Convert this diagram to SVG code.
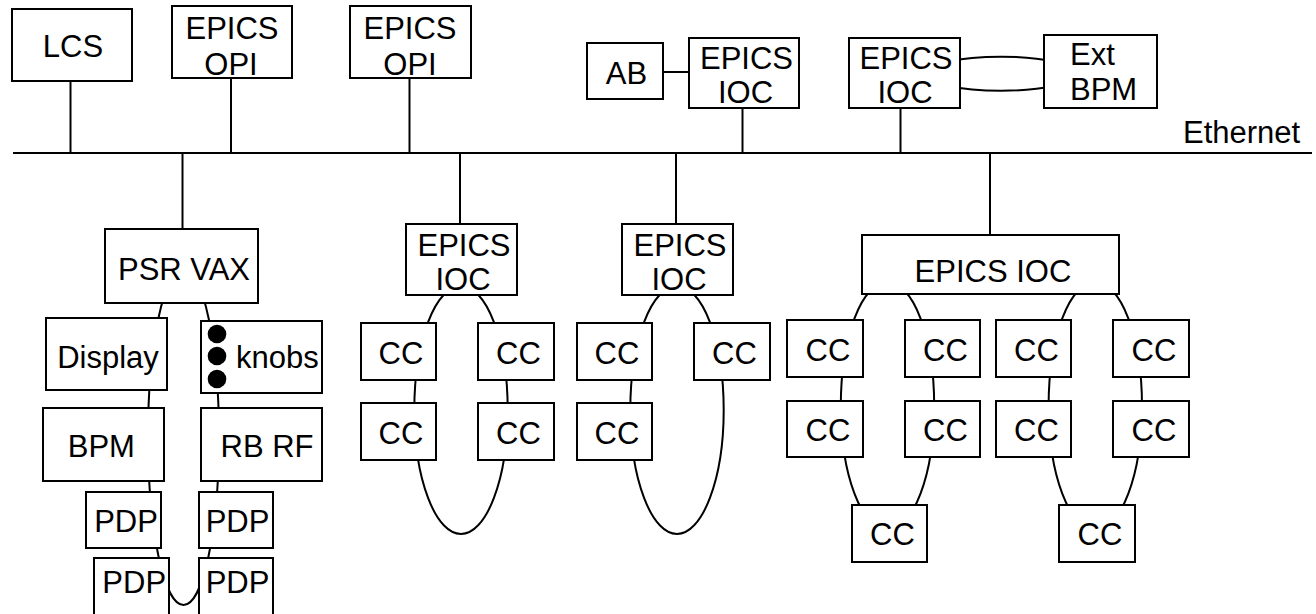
<svg xmlns="http://www.w3.org/2000/svg" width="1316" height="614" viewBox="0 0 1316 614">
<defs>
<style>
.box{fill:#fff;stroke:#000;stroke-width:2}
.ln{stroke:#000;stroke-width:2;fill:none}
.t{font-family:"Liberation Sans",Arial,Helvetica,sans-serif;font-size:31px;fill:#000;text-anchor:middle}
.s{text-anchor:start}
</style>
</defs>
<rect width="1316" height="614" fill="#fff"/>
<g id="connectors">
<line class="ln" x1="13" y1="153" x2="1312" y2="153"/>
<line class="ln" x1="70.5" y1="81" x2="70.5" y2="153"/>
<line class="ln" x1="231" y1="78" x2="231" y2="153"/>
<line class="ln" x1="409.5" y1="78" x2="409.5" y2="153"/>
<line class="ln" x1="742.5" y1="108" x2="742.5" y2="153"/>
<line class="ln" x1="900.5" y1="108" x2="900.5" y2="153"/>
<line class="ln" x1="182.5" y1="153" x2="182.5" y2="229"/>
<line class="ln" x1="460" y1="153" x2="460" y2="224"/>
<line class="ln" x1="676" y1="153" x2="676" y2="224"/>
<line class="ln" x1="990" y1="153" x2="990" y2="235"/>
<line class="ln" x1="663" y1="72" x2="689" y2="72"/>
<ellipse class="ln" cx="1001" cy="73.7" rx="75.5" ry="17"/>
<ellipse class="ln" cx="183.5" cy="437" rx="35.5" ry="168"/>
<ellipse class="ln" cx="461" cy="410" rx="46.7" ry="124"/>
<ellipse class="ln" cx="677" cy="410" rx="46.7" ry="124"/>
<ellipse class="ln" cx="887.5" cy="406" rx="46.7" ry="124"/>
<ellipse class="ln" cx="1095.3" cy="406" rx="46.7" ry="124"/>
</g>
<text class="t s" x="1183" y="143">Ethernet</text>
<g id="lcs"><rect class="box" x="12" y="9" width="120" height="72"/><text class="t" x="73" y="57">LCS</text></g>
<g id="opi1"><rect class="box" x="172" y="6" width="120" height="72"/><text class="t" x="232" y="39">EPICS</text><text class="t" x="231" y="75">OPI</text></g>
<g id="opi2"><rect class="box" x="350" y="6" width="121" height="72"/><text class="t" x="410" y="39">EPICS</text><text class="t" x="410" y="75">OPI</text></g>
<g id="ab"><rect class="box" x="587" y="43" width="76" height="56"/><text class="t" x="626.5" y="84">AB</text></g>
<g id="ioc_ab"><rect class="box" x="689" y="38" width="110" height="70"/><text class="t" x="746.5" y="69">EPICS</text><text class="t" x="745.5" y="103">IOC</text></g>
<g id="ioc_ext"><rect class="box" x="849" y="38" width="111" height="70"/><text class="t" x="906" y="69">EPICS</text><text class="t" x="905" y="103">IOC</text></g>
<g id="ext_bpm"><rect class="box" x="1044" y="35" width="113" height="73"/><text class="t s" x="1070" y="65">Ext</text><text class="t s" x="1070" y="100">BPM</text></g>
<g id="psr_vax"><rect class="box" x="105" y="229" width="153" height="74"/><text class="t" x="184" y="280">PSR VAX</text></g>
<g id="display"><rect class="box" x="46" y="318" width="121" height="72"/><text class="t" x="108" y="367.7">Display</text></g>
<g id="knobs"><rect class="box" x="201" y="321" width="121" height="72"/><circle cx="217" cy="334" r="9.3"/><circle cx="217" cy="356" r="9.3"/><circle cx="217" cy="379" r="9.3"/><text class="t s" x="236" y="367.7">knobs</text></g>
<g id="bpm"><rect class="box" x="43" y="408" width="121" height="73"/><text class="t" x="101.3" y="456.7">BPM</text></g>
<g id="rbrf"><rect class="box" x="201" y="408" width="121" height="73"/><text class="t" x="267" y="456.7">RB RF</text></g>
<g id="pdp1"><rect class="box" x="86" y="492" width="75" height="56"/><text class="t" x="126" y="531.7">PDP</text></g>
<g id="pdp2"><rect class="box" x="199" y="492" width="74" height="56"/><text class="t" x="237.5" y="531.7">PDP</text></g>
<g id="pdp3"><rect class="box" x="94" y="558" width="75" height="64"/><text class="t" x="134.2" y="592.7">PDP</text></g>
<g id="pdp4"><rect class="box" x="199" y="558" width="74" height="64"/><text class="t" x="237.5" y="592.7">PDP</text></g>
<g id="ioc_m1"><rect class="box" x="406" y="224" width="111" height="71"/><text class="t" x="464" y="255.7">EPICS</text><text class="t" x="463" y="290">IOC</text></g>
<g id="cc_m1a"><rect class="box" x="361" y="323" width="75" height="57"/><text class="t" x="401" y="364.3">CC</text></g>
<g id="cc_m1b"><rect class="box" x="478" y="323" width="76" height="57"/><text class="t" x="518.5" y="364.3">CC</text></g>
<g id="cc_m1c"><rect class="box" x="361" y="403" width="75" height="57"/><text class="t" x="401" y="444.3">CC</text></g>
<g id="cc_m1d"><rect class="box" x="478" y="403" width="76" height="57"/><text class="t" x="518.5" y="444.3">CC</text></g>
<g id="ioc_m2"><rect class="box" x="622" y="224" width="111" height="71"/><text class="t" x="680" y="255.7">EPICS</text><text class="t" x="679" y="290">IOC</text></g>
<g id="cc_m2a"><rect class="box" x="577" y="323" width="75" height="57"/><text class="t" x="617" y="364.3">CC</text></g>
<g id="cc_m2b"><rect class="box" x="694" y="323" width="76" height="57"/><text class="t" x="734.5" y="364.3">CC</text></g>
<g id="cc_m2c"><rect class="box" x="577" y="403" width="75" height="57"/><text class="t" x="617" y="444.3">CC</text></g>
<g id="ioc_r"><rect class="box" x="862" y="235" width="257" height="59"/><text class="t" x="993" y="281.7">EPICS IOC</text></g>
<g id="cc_r1"><rect class="box" x="787" y="320" width="76" height="57"/><text class="t" x="828" y="361">CC</text></g>
<g id="cc_r2"><rect class="box" x="905" y="320" width="75" height="57"/><text class="t" x="945.5" y="361">CC</text></g>
<g id="cc_r3"><rect class="box" x="996" y="320" width="75" height="57"/><text class="t" x="1036.5" y="361">CC</text></g>
<g id="cc_r4"><rect class="box" x="1113" y="320" width="76" height="57"/><text class="t" x="1154" y="361">CC</text></g>
<g id="cc_r5"><rect class="box" x="787" y="401" width="76" height="56"/><text class="t" x="828" y="441.3">CC</text></g>
<g id="cc_r6"><rect class="box" x="905" y="401" width="75" height="56"/><text class="t" x="945.5" y="441.3">CC</text></g>
<g id="cc_r7"><rect class="box" x="996" y="401" width="75" height="56"/><text class="t" x="1036.5" y="441.3">CC</text></g>
<g id="cc_r8"><rect class="box" x="1113" y="401" width="76" height="56"/><text class="t" x="1154" y="441.3">CC</text></g>
<g id="cc_r9"><rect class="box" x="852" y="505" width="75" height="57"/><text class="t" x="892.5" y="545">CC</text></g>
<g id="cc_r10"><rect class="box" x="1059" y="505" width="76" height="57"/><text class="t" x="1100" y="545">CC</text></g>
</svg>
